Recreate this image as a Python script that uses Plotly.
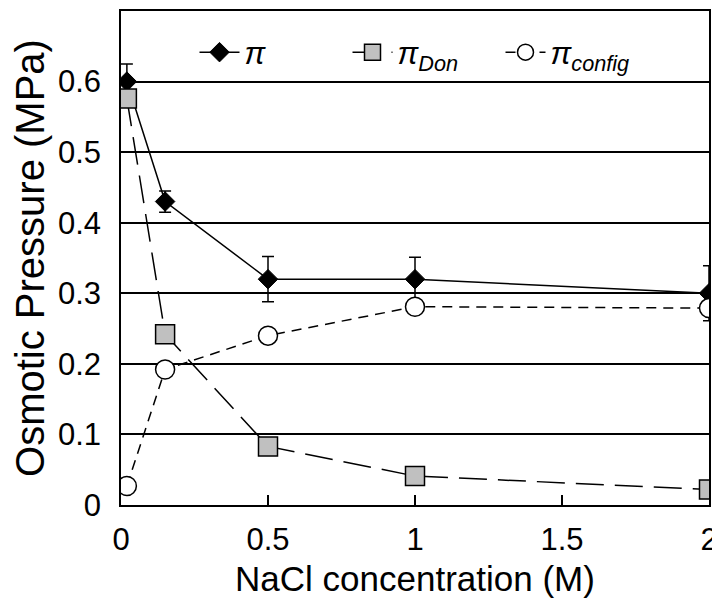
import plotly.graph_objects as go

# Data
nacl = [0.02, 0.15, 0.5, 1.0, 2.0]
pi_total = [0.60, 0.43, 0.32, 0.32, 0.30]
pi_total_err = [0.025, 0.015, 0.032, 0.031, 0.039]
pi_don = [0.576, 0.242, 0.083, 0.041, 0.022]
pi_config = [0.027, 0.192, 0.240, 0.281, 0.279]

x_ticks = [0, 0.5, 1, 1.5, 2]
x_tick_labels = ["0", "0.5", "1", "1.5", "2"]
y_ticks = [0, 0.1, 0.2, 0.3, 0.4, 0.5, 0.6, 0.7]
y_tick_labels = ["0", "0.1", "0.2", "0.3", "0.4", "0.5", "0.6", "0.7"]

FONT = "Liberation Sans, Arial, sans-serif"

fig = go.Figure()

fig.add_trace(go.Scatter(
    x=nacl, y=pi_total, name="<i>π</i>", mode="lines+markers",
    line=dict(color="black", width=1.5),
    marker=dict(symbol="diamond", size=15, color="black",
                line=dict(color="black", width=1)),
    error_y=dict(type="data", array=pi_total_err, visible=True,
                 color="black", thickness=1.5, width=6),
))
fig.add_trace(go.Scatter(
    x=nacl, y=pi_don, name="<i>π<sub>Don</sub></i>", mode="lines+markers",
    line=dict(color="black", width=1.5, dash="28px,11px"),
    marker=dict(symbol="square", size=19, color="#c0c0c0",
                line=dict(color="black", width=1.5)),
))
fig.add_trace(go.Scatter(
    x=nacl, y=pi_config, name="<i>π<sub>config</sub></i>", mode="lines+markers",
    line=dict(color="black", width=1.5, dash="10px,7px"),
    marker=dict(symbol="circle", size=19, color="white",
                line=dict(color="black", width=1.5)),
))

fig.update_layout(
    width=712, height=590,
    margin=dict(l=113, r=11, t=3, b=93, autoexpand=False),
    paper_bgcolor="white", plot_bgcolor="white",
    font=dict(family=FONT, color="black", size=30),
    showlegend=True,
    legend=dict(orientation="h", x=0.125, xanchor="left", y=0.916, yanchor="middle",
                bgcolor="rgba(0,0,0,0)", font=dict(size=31, family=FONT),
                entrywidth=98, entrywidthmode="pixels", itemwidth=40),
)
fig.update_xaxes(
    range=[0, 2], tickvals=x_ticks, ticktext=x_tick_labels,
    showgrid=False, zeroline=False,
    showline=True, linecolor="black", linewidth=1.5, mirror=True,
    ticks="inside", ticklen=10, tickwidth=1.5, tickcolor="black",
    tickfont=dict(size=31, family=FONT), ticklabelstandoff=6,
    title=dict(text="NaCl concentration (M)", font=dict(size=35, family=FONT), standoff=18),
    automargin=False,
)
fig.update_yaxes(
    range=[0, 0.7], tickvals=y_ticks, ticktext=y_tick_labels,
    showgrid=True, gridcolor="black", gridwidth=1.5, zeroline=False,
    showline=True, linecolor="black", linewidth=1.5, mirror=True,
    ticks="", tickfont=dict(size=31, family=FONT), ticklabelstandoff=12,
    title=dict(text="Osmotic Pressure (MPa)", font=dict(size=40, family=FONT), standoff=40),
    automargin=False,
)

fig.write_html("out.html")
